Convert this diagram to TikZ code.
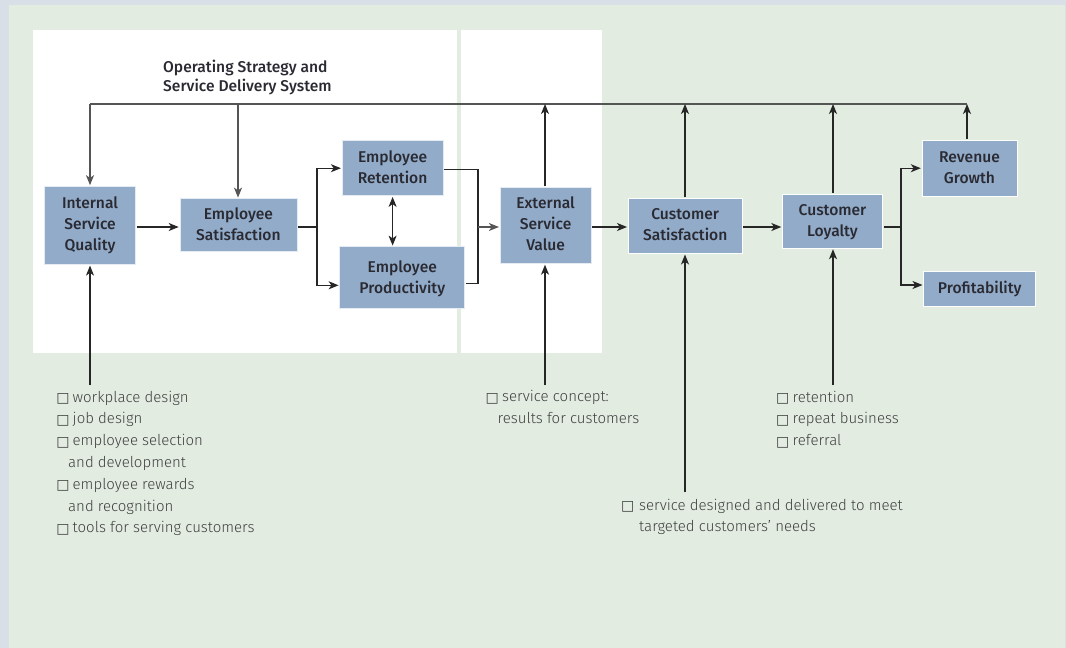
\documentclass[tikz,border=0pt]{standalone}
\usepackage{fontspec}
\setmainfont{Fira Sans}
\newfontfamily\listfont{Fira Sans Light}
\newfontfamily\boxfont{Fira Sans Medium}
\newfontfamily\symfont{DejaVu Sans}
\usetikzlibrary{arrows.meta,calc}
\definecolor{pagebg}{HTML}{D9DFE6}
\definecolor{panel}{HTML}{E2ECE1}
\definecolor{boxfill}{HTML}{91ABC8}
\definecolor{boxedge}{HTML}{E4EBF3}
\definecolor{ink}{HTML}{2A2A33}
\definecolor{linedark}{HTML}{262626}
\definecolor{linegray}{HTML}{555555}
\definecolor{listink}{HTML}{404040}
\newcommand{\cb}{\makebox[0pt][l]{\hspace{-1.2pt}\raisebox{-0.5pt}{\symfont\fontsize{14}{14}\selectfont □}}}
\newcommand{\lifted}[2]{\raisebox{#1}[0pt][0pt]{\begin{tabular}[t]{@{}c@{}}#2\end{tabular}}}
\tikzset{
  flowbox/.style={draw=boxedge,line width=0.8pt,fill=boxfill,text=ink,inner sep=0pt,outer sep=1.2pt,align=center,
    font=\boxfont\fontsize{15.6}{21}\selectfont},
  tipstyle/.style={-{Stealth[length=10pt,width=8pt,inset=2.8pt]}},
  conn/.style={draw=linedark,line width=1.2pt},
  arr/.style={conn,tipstyle},
  dbl/.style={conn,{Stealth[length=10pt,width=8pt,inset=2.8pt]}-{Stealth[length=10pt,width=8pt,inset=2.8pt]}},
  topline/.style={draw=linegray,line width=1.6pt},
  listtext/.style={text=listink,inner sep=0pt,anchor=north west,align=left,font=\listfont\fontsize{15}{21.8}\selectfont},
}
\begin{document}
\begin{tikzpicture}[x=1pt,y=-1pt]
\useasboundingbox (0,0) rectangle (1066,648);
\fill[pagebg] (0,0) rectangle (1066,648);
\fill[panel] (9,5) rectangle (1065,648);
\fill[white] (33,30) rectangle (602,353);
\fill[panel] (457,30) rectangle (461,353);

\node[text=ink,inner sep=0pt,anchor=north west,align=left,font=\boxfont\fontsize{15.6}{19}\selectfont] (title) at (163,60.3)
  {Operating Strategy and\\Service Delivery System};

\node[flowbox,minimum width=91pt,minimum height=78pt] (iq) at (90,225.4) {Internal\\Service\\Quality};
\node[flowbox,minimum width=117pt,minimum height=53pt] (es) at (238.4,225.3) {\lifted{6.3pt}{Employee\\Satisfaction}};
\node[flowbox,minimum width=101pt,minimum height=55pt] (er) at (392.6,168.2) {\lifted{5.3pt}{Employee\\Retention}};
\node[flowbox,minimum width=125pt,minimum height=62pt] (ep) at (402.3,277.8) {\lifted{5.8pt}{Employee\\Productivity}};
\node[flowbox,minimum width=91pt,minimum height=76pt] (ev) at (545.6,225.5) {\lifted{16.8pt}{External\\Service\\Value}};
\node[flowbox,draw=white,minimum width=114pt,minimum height=55pt] (cs) at (685.2,225.8) {\lifted{6.3pt}{Customer\\Satisfaction}};
\node[flowbox,draw=white,minimum width=100pt,minimum height=54pt] (cl) at (832.5,221) {\lifted{5.3pt}{Customer\\Loyalty}};
\node[flowbox,draw=white,minimum width=95pt,minimum height=56pt] (rg) at (969.5,168.2) {\lifted{5.3pt}{Revenue\\Growth}};
\node[flowbox,draw=white,minimum width=112pt,minimum height=35pt] (pr) at (979.7,288.8) {Profitability};

\coordinate (tl) at (90,104);
\coordinate (tb) at (238,104);
\coordinate (tv) at (545,104);
\coordinate (tc) at (685,104);
\coordinate (ty) at (833,104);
\coordinate (tr) at (967,104);

\draw[topline] (tl) -- (tr);
\draw[topline,tipstyle] (tl) -- (tl |- iq.north);
\draw[topline,tipstyle] (tb) -- (tb |- es.north);
\draw[arr] (tv |- ev.north) -- (tv);
\draw[arr] (tc |- cs.north) -- (tc);
\draw[arr] (ty |- cl.north) -- (ty);
\draw[arr] (tr |- rg.north) -- (tr);

\coordinate (j0) at (0,227);
\draw[arr] (iq.east |- j0) -- (es.west |- j0);
\coordinate (j1) at (317,227);
\draw[conn] (es.east |- j1) -- (j1);
\draw[arr] (j1) |- (er.west);
\draw[arr] (j1) |- ([yshift=-7.5pt]ep.west);
\draw[dbl] (er.south) -- (er.south |- ep.north);
\coordinate (j2) at (478,227);
\draw[conn] ([yshift=-1pt]er.east) -| (j2);
\draw[conn] ([yshift=-6pt]ep.east) -| (j2);
\draw[arr,draw=linegray] (j2) -- (j2 -| ev.west);
\draw[arr] (ev.east |- j2) -- (cs.west |- j2);
\draw[arr] (cs.east |- j2) -- (cl.west |- j2);
\coordinate (j3) at (901,227);
\draw[conn] (cl.east |- j3) -- (j3);
\draw[arr] (j3) |- (rg.west);
\draw[arr] (j3) |- ([yshift=3.8pt]pr.west);

\node[listtext] (l1) at (57.5,390.5) {\cb\hspace{15pt}workplace design\\\cb\hspace{15pt}job design\\\cb\hspace{15pt}employee selection\\\hspace{10.5pt}and development\\\cb\hspace{15pt}employee rewards\\\hspace{10.5pt}and recognition\\\cb\hspace{15pt}tools for serving customers};
\node[listtext] (l2) at (486.5,390.5) {\cb\hspace{15.5pt}service concept:\\\hspace{11pt}results for customers};
\node[listtext] (l3) at (777,390.5) {\cb\hspace{15.5pt}retention\\\cb\hspace{15.5pt}repeat business\\\cb\hspace{15.5pt}referral};
\node[listtext] (l4) at (622,498.5) {\cb\hspace{17pt}service designed and delivered to meet\\\hspace{17pt}targeted customers’ needs};

\coordinate (s1) at (90,385);
\coordinate (s2) at (545,385);
\coordinate (s3) at (685,492);
\coordinate (s4) at (833,385);
\draw[arr] (s1) -- (s1 |- iq.south);
\draw[arr] (s2) -- (s2 |- ev.south);
\draw[arr] (s3) -- (s3 |- cs.south);
\draw[arr] (s4) -- (s4 |- cl.south);
\end{tikzpicture}
\end{document}
